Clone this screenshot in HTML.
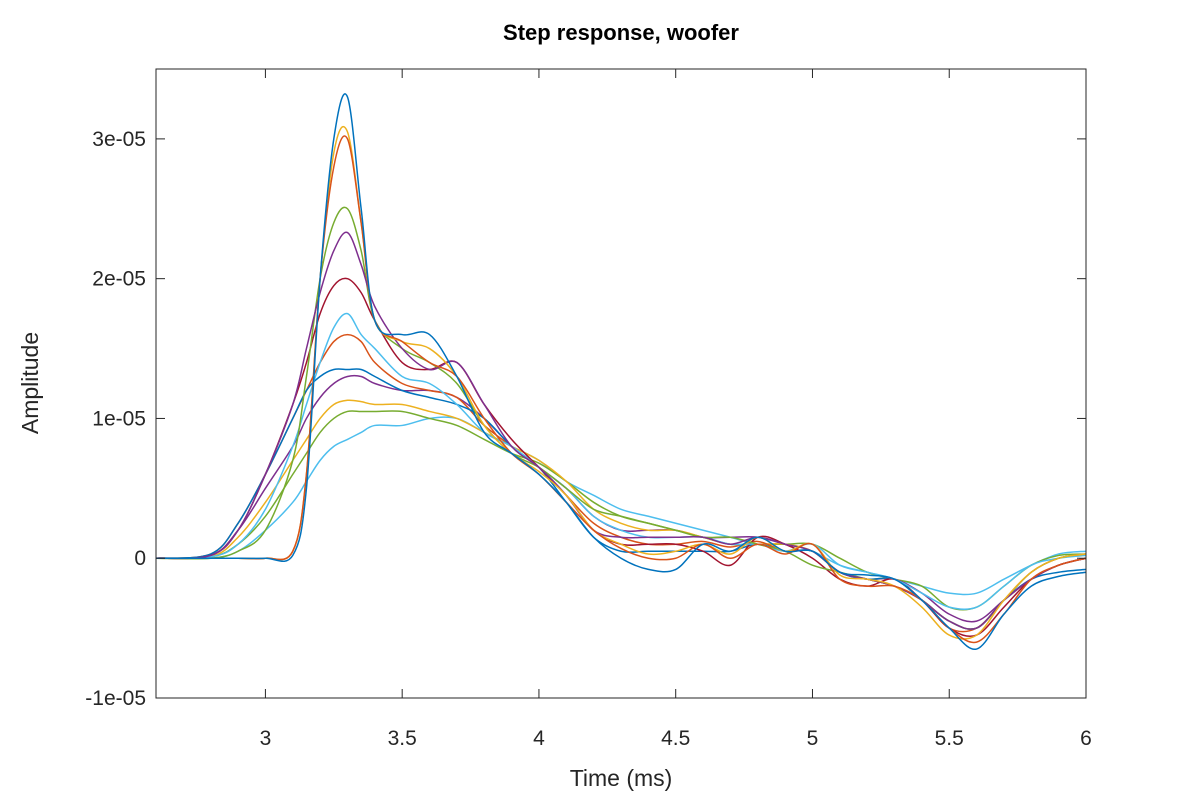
<!DOCTYPE html>
<html><head><meta charset="utf-8"><style>
body{margin:0;background:#fff}
svg{display:block;font-family:"Liberation Sans",sans-serif}
</style></head><body>
<svg id="chart" width="1200" height="800">
<rect width="1200" height="800" fill="#fff"/>
<text x="621" y="40" text-anchor="middle" font-size="22" font-weight="bold" fill="#000">Step response, woofer</text>
<text x="621" y="786" text-anchor="middle" font-size="23" fill="#262626">Time (ms)</text>
<text transform="translate(38,383) rotate(-90)" text-anchor="middle" font-size="23" fill="#262626">Amplitude</text>
<g id="series"></g>
<g id="axes"></g>
</svg>
<script>
const times=[2.6,2.8,2.9,3.0,3.1,3.15,3.2,3.25,3.3,3.35,3.4,3.5,3.6,3.7,3.8,3.9,4.0,4.1,4.2,4.3,4.4,4.5,4.6,4.7,4.8,4.9,5.0,5.1,5.2,5.3,5.4,5.5,5.6,5.7,5.8,5.9,6.0];
const s1=[0,0,0,0,0.2,5,20,30,33,25,17,16,16,13,9,7.5,6,4,1.5,0,-0.8,-0.8,1,0.5,1.5,0.5,0.5,-1,-1.2,-1.5,-3,-5,-6.5,-4,-2,-1.3,-1];
const s2=[0,0,0,0,0.5,6,20,28,30,24,17,15.5,14,13,10,7.5,6,4,2,0.7,0,0,1,0,1,0.3,1,-1.5,-2,-2,-3,-5,-6,-4,-1.5,-0.5,0];
const s3=[0,0,0,0,0.5,6,20,29,30.5,24,17,15.5,15,13,9.5,7.5,6.2,4.5,2,1,0.3,0.5,1,0.3,1.5,0.5,1,-1.2,-1.5,-2,-3.5,-5.5,-5.5,-3,-1,0,0.3];
const s4=[0,0.2,2,6,11,15,19,22,23.3,21,18,15,13.5,14,11,8,6.5,4.5,2,1.5,1.5,1.5,1.5,1,1.5,1,0.5,-1,-1.5,-2,-3,-4.5,-5,-3,-1.5,-0.5,0];
const s5=[0,0,0.5,2,7,13,20,24,25,22,17,15,14,12.5,9.5,7.5,6.5,5,3.5,3,2.5,2,1.5,1.5,1,0.5,-0.5,-1,-1.5,-2,-3,-4.5,-5,-3,-1,0,0.3];
const s6=[0,0.1,1,3.5,8,11,14,16.5,17.5,16,15,13,12.5,11,9,8,6.5,5,3,2,1.5,1.5,1.5,1,1,0.5,1,-0.5,-1,-1.5,-2.5,-3.5,-3.5,-2,-0.5,0,0.2];
const s7=[0,0.2,2,6,11,14,17.5,19.5,20,19,17,14,13.5,14,11,8.5,6.5,4.5,2,1,1,1,0.5,-0.5,1.5,1,0,-1.5,-2,-1.5,-3,-5,-5.5,-3.5,-1.5,-0.5,0];
const s8=[0,0.3,2.5,6,10,12,13,13.5,13.5,13.5,13,12,11.5,11,10,8,6.5,4,1.5,0.5,0.5,0.5,0.5,0.5,1,0.5,0.5,-1,-1.5,-1.5,-3,-4.5,-5,-3,-1.5,-1,-0.8];
const s9=[0,0.3,2.5,6,10,12,14,15.5,16,15.5,14,12.5,12,11.5,9.5,8,6.5,4.5,2.5,1.5,1,1,1.2,0.8,1.2,0.5,0.5,-1,-1.5,-2,-3,-5,-5,-3,-1,0,0.3];
const s10=[0,0.1,1.5,4,7,8.5,10,11,11.3,11.2,11,11,10.5,10,9,8,7,5.5,3.5,2.5,2,2,1.5,1,1,1,0.5,-1,-1.5,-1.5,-3,-4.5,-5,-3,-1.5,-0.5,0];
const s11=[0,0.2,2,5,8,10,11.5,12.5,13,13,12.5,12,12,11.5,10,8,6.5,5,3,2,2,2,1.5,1.5,1.5,1,0.5,-1,-1.5,-1.5,-2.5,-4,-4.5,-3,-1.5,-0.5,0];
const s12=[0,0.1,1,3,6,7.5,9,10,10.5,10.5,10.5,10.5,10,9.5,8.5,7.5,6.8,5.5,4,3,2.5,2,1.5,1,1,1,1,0,-1,-1.5,-2,-3.5,-3.5,-2,-0.5,0.2,0.3];
const s13=[0,0,0.5,2,4,5.5,7,8,8.5,9,9.5,9.5,10,10,9,8,7,5.5,4.5,3.5,3,2.5,2,1.5,1,1,0.5,-0.5,-1,-1.5,-2,-2.5,-2.5,-1.5,-0.5,0.3,0.5];
const seriesList=[s13,s12,s11,s10,s9,s8,s7,s6,s5,s4,s3,s2,s1];
const xTicks=[3,3.5,4,4.5,5,5.5,6];
const xTickLabels=["3","3.5","4","4.5","5","5.5","6"];
const yTicks=[-10,0,10,20,30];
const yTickLabels=["-1e-05","0","1e-05","2e-05","3e-05"];
const colors=["#0072BD","#D95319","#EDB120","#7E2F8E","#77AC30","#4DBEEE","#A2142F"];
const L=156,R=1086,T=69,B=698,xmin=2.6,xmax=6,ymin=-10,ymax=35;
const sx=v=>L+(v-xmin)/(xmax-xmin)*(R-L);
const sy=v=>B-(v-ymin)/(ymax-ymin)*(B-T);
const NS="http://www.w3.org/2000/svg";
const sg=document.getElementById('series'), ag=document.getElementById('axes');
function pathFor(arr){
  const p=times.map((t,i)=>[sx(t),sy(arr[i])]);
  let d="M"+p[0][0]+","+p[0][1];
  for(let i=0;i<p.length-1;i++){
    const p0=p[Math.max(0,i-1)],p1=p[i],p2=p[i+1],p3=p[Math.min(p.length-1,i+2)];
    d+=" C"+(p1[0]+(p2[0]-p0[0])/6)+","+(p1[1]+(p2[1]-p0[1])/6)+" "+(p2[0]-(p3[0]-p1[0])/6)+","+(p2[1]-(p3[1]-p1[1])/6)+" "+p2[0]+","+p2[1];
  }
  return d;
}
const origOrder=[s1,s2,s3,s4,s5,s6,s7,s8,s9,s10,s11,s12,s13];
seriesList.forEach(arr=>{
  const idx=origOrder.indexOf(arr);
  const el=document.createElementNS(NS,'path');
  el.setAttribute('d',pathFor(arr));
  el.setAttribute('fill','none');
  el.setAttribute('stroke',colors[idx%7]);
  el.setAttribute('stroke-width','1.5');
  
  
  sg.appendChild(el);
});
const frame=document.createElementNS(NS,'rect');
frame.setAttribute('x',L);frame.setAttribute('y',T);frame.setAttribute('width',R-L);frame.setAttribute('height',B-T);
frame.setAttribute('fill','none');frame.setAttribute('stroke','#262626');frame.setAttribute('stroke-width','1');


ag.appendChild(frame);
function line(x1,y1,x2,y2,name){
  const l=document.createElementNS(NS,'line');
  l.setAttribute('x1',x1);l.setAttribute('y1',y1);l.setAttribute('x2',x2);l.setAttribute('y2',y2);
  l.setAttribute('stroke','#262626');
  
  
  ag.appendChild(l);
}
function text(x,y,s,anchor,name){
  const t=document.createElementNS(NS,'text');
  t.setAttribute('x',x);t.setAttribute('y',y);t.setAttribute('text-anchor',anchor);
  t.setAttribute('font-size','21');t.setAttribute('fill','#262626');
  t.textContent=s;
  
  
  ag.appendChild(t);
}
xTicks.forEach((v,i)=>{
  const x=sx(v);
  line(x,B,x,B-9,'x-tick');
  line(x,T,x,T+9,'x-tick-top');
  text(x,B+47,xTickLabels[i],'middle','x-tick-label');
});
yTicks.forEach((v,i)=>{
  const y=sy(v);
  line(L,y,L+9,y,'y-tick');
  line(R,y,R-9,y,'y-tick-right');
  text(L-10,y+7,yTickLabels[i],'end','y-tick-label');
});
</script>
</body></html>
